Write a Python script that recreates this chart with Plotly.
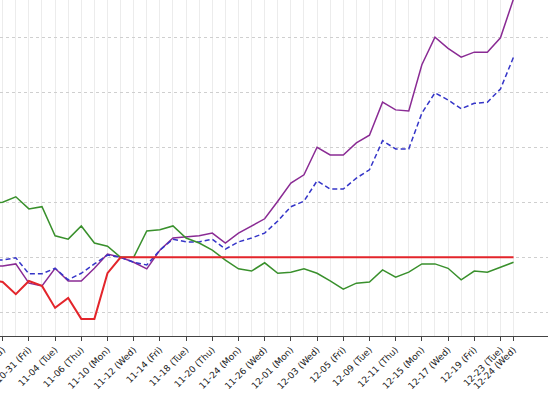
import pandas as pd
import plotly.graph_objects as go

# trading days (US market, Thanksgiving skipped)
dates = [
    "2025-10-28", "2025-10-29", "2025-10-30", "2025-10-31", "2025-11-03",
    "2025-11-04", "2025-11-05", "2025-11-06", "2025-11-07", "2025-11-10",
    "2025-11-11", "2025-11-12", "2025-11-13", "2025-11-14", "2025-11-17",
    "2025-11-18", "2025-11-19", "2025-11-20", "2025-11-21", "2025-11-24",
    "2025-11-25", "2025-11-26", "2025-11-28", "2025-12-01", "2025-12-02",
    "2025-12-03", "2025-12-04", "2025-12-05", "2025-12-08", "2025-12-09",
    "2025-12-10", "2025-12-11", "2025-12-12", "2025-12-15", "2025-12-16",
    "2025-12-17", "2025-12-18", "2025-12-19", "2025-12-22", "2025-12-23",
    "2025-12-24",
]

# cumulative change (%), rebased on 11-11
purple_vals = [-1.6, -1.6, -1.2, -4.7, -5.2, -2.0, -4.3, -4.3, -2.0, 0.6,
               0.0, -0.9, -2.1, 1.3, 3.5, 3.7, 3.9, 4.4, 2.6, 4.4,
               5.7, 7.0, 10.2, 13.5, 15.0, 20.0, 18.6, 18.6, 20.8, 22.2,
               28.2, 26.8, 26.6, 35.0, 40.0, 38.0, 36.4, 37.3, 37.3, 39.9,
               47.0]
blue_vals = [-0.5, -0.5, -0.1, -3.0, -3.0, -2.0, -4.1, -2.9, -1.2, 0.4,
             0.0, -0.9, -1.4, 1.3, 3.3, 2.8, 2.8, 3.3, 1.5, 2.8,
             3.5, 4.4, 6.6, 9.2, 10.2, 13.9, 12.4, 12.4, 14.4, 15.9,
             21.2, 19.7, 19.7, 26.2, 29.9, 28.6, 27.0, 28.0, 28.2, 30.6,
             36.4]
green_vals = [9.9, 10.0, 11.0, 8.8, 9.2, 3.9, 3.3, 5.7, 2.6, 2.0,
              0.0, 0.0, 4.8, 5.0, 5.7, 3.5, 2.6, 1.3, -0.5, -2.1,
              -2.5, -1.0, -2.9, -2.7, -2.1, -2.9, -4.3, -5.8, -4.7, -4.5,
              -2.3, -3.6, -2.7, -1.2, -1.2, -2.0, -4.1, -2.5, -2.7, -1.8,
              -0.9]
red_vals = [-4.1, -4.5, -6.7, -4.3, -5.2, -9.2, -7.4, -11.2, -11.2, -2.9,
            0.0, 0.0, 0.0, 0.0, 0.0, 0.0, 0.0, 0.0, 0.0, 0.0,
            0.0, 0.0, 0.0, 0.0, 0.0, 0.0, 0.0, 0.0, 0.0, 0.0,
            0.0, 0.0, 0.0, 0.0, 0.0, 0.0, 0.0, 0.0, 0.0, 0.0,
            0.0]

d = pd.to_datetime(dates)
labels = [t.strftime("%m-%d (%a)") for t in d]
pos = list(range(-1, len(dates) - 1))  # 10-29 sits at 0

# label every second day from 10-29, plus the last day
tick_idx = list(range(1, len(dates), 2))
if tick_idx[-1] != len(dates) - 1:
    tick_idx.append(len(dates) - 1)
tickvals = [pos[i] for i in tick_idx]
ticktext = [labels[i] for i in tick_idx]

fig = go.Figure()
fig.add_trace(go.Scatter(x=pos, y=purple_vals, mode="lines", name="purple",
                         line=dict(color="#8a2b94", width=1.5)))
fig.add_trace(go.Scatter(x=pos, y=blue_vals, mode="lines", name="blue",
                         line=dict(color="#3535c8", width=1.5, dash="5px,3px")))
fig.add_trace(go.Scatter(x=pos, y=green_vals, mode="lines", name="green",
                         line=dict(color="#39902c", width=1.5)))
fig.add_trace(go.Scatter(x=pos, y=red_vals, mode="lines", name="red",
                         line=dict(color="#e3252b", width=2)))

fig.update_layout(
    width=548, height=416,
    margin=dict(l=0, r=0, t=0, b=80),
    paper_bgcolor="white", plot_bgcolor="white",
    showlegend=False,
    font=dict(family="DejaVu Sans", size=9, color="#222222"),
    xaxis=dict(
        range=[-0.206, 41.63], automargin=False,
        tickmode="array", tickvals=tickvals, ticktext=ticktext,
        tickangle=-45, ticklabeloverflow="allow",
        showgrid=True, gridcolor="#ececec", gridwidth=1,
        minor=dict(tickmode="array", tickvals=pos, showgrid=True,
                   gridcolor="#ececec", gridwidth=1, ticks=""),
        showline=True, linecolor="#444444", linewidth=1,
        ticks="outside", ticklen=4, tickcolor="#444444",
        zeroline=False,
    ),
    yaxis=dict(
        range=[-14.31, 46.78], automargin=False,
        tick0=0, dtick=10,
        showticklabels=False,
        showgrid=True, gridcolor="#cfcfcf", gridwidth=1, griddash="dot",
        zeroline=False, showline=False, ticks="",
    ),
)

# page body has a default 8px margin; drop it so the chart fills the window
fig.write_html("out.html", config={"displayModeBar": False},
               post_script="document.body.style.margin='0px';")
